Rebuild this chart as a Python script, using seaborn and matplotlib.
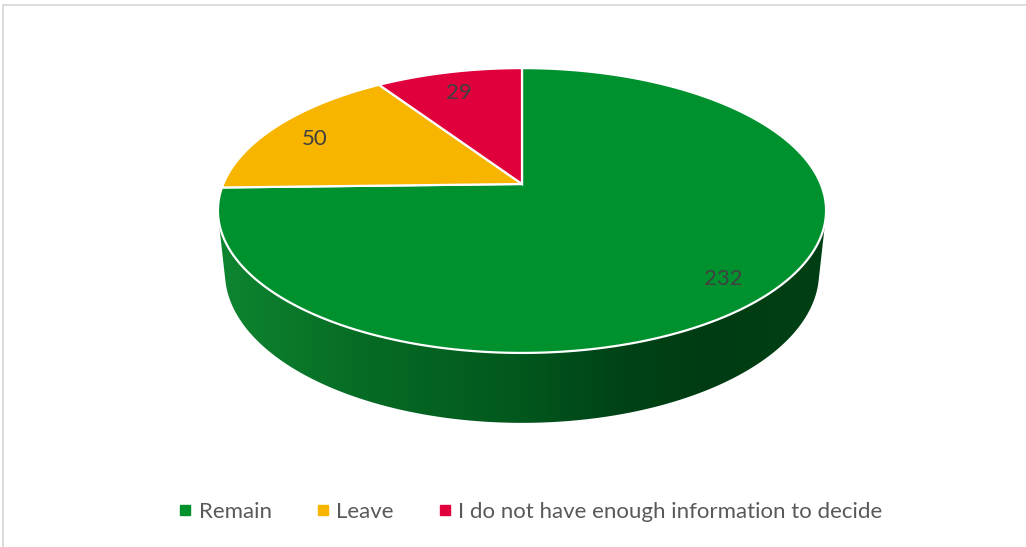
import numpy as np
import matplotlib
matplotlib.use("Agg")
import matplotlib.pyplot as plt
import seaborn as sns
from matplotlib.patches import Polygon
from matplotlib.lines import Line2D
from matplotlib.colors import LinearSegmentedColormap

# Survey answers
categories = ["Remain", "Leave", "I do not have enough information to decide"]
counts = [232, 50, 29]
slice_colors = ["#00912F", "#F7B500", "#E0003C"]

sns.set_theme(style="white")
plt.rcParams["font.family"] = ["Lato", "DejaVu Sans"]

W, H = 1026, 547
fig = plt.figure(figsize=(W / 100, H / 100), dpi=100)
ax = fig.add_axes([0, 0, 1, 1])
ax.axis("off")

# Perspective camera looking down at a flat disc of radius 1
F = 1425.0
DIST = 4.77
PHI = np.radians(27.4)
CX, CY = 522.0, 184.0
THICK = 0.235


def project(u, v, w=0.0):
    z = DIST + v * np.cos(PHI) - w * np.sin(PHI)
    return CX + F * u / z, CY - F * (v * np.sin(PHI) + w * np.cos(PHI)) / z


def convex_hull(points):
    pts = sorted(map(tuple, points))

    def cross(o, a, b):
        return (a[0] - o[0]) * (b[1] - o[1]) - (a[1] - o[1]) * (b[0] - o[0])

    lower, upper = [], []
    for p in pts:
        while len(lower) >= 2 and cross(lower[-2], lower[-1], p) <= 0:
            lower.pop()
        lower.append(p)
    for p in reversed(pts):
        while len(upper) >= 2 and cross(upper[-2], upper[-1], p) <= 0:
            upper.pop()
        upper.append(p)
    return np.array(lower[:-1] + upper[:-1])


# Side wall of the disc: hull of the top and bottom rims, shaded left to right
t = np.linspace(0, 2 * np.pi, 1441)
tx, ty = project(np.cos(t), np.sin(t), 0.0)
bx, by = project(np.cos(t), np.sin(t), -THICK)
hull = convex_hull(np.column_stack([np.r_[tx, bx], np.r_[ty, by]]))
x0, x1 = hull[:, 0].min(), hull[:, 0].max()
y0, y1 = hull[:, 1].min(), hull[:, 1].max()

side_cmap = LinearSegmentedColormap.from_list(
    "side",
    [(0.00, "#0E8530"), (0.25, "#066A24"), (0.50, "#02571D"),
     (0.65, "#004417"), (0.80, "#003C13"), (1.00, "#004015")],
)
grad = np.linspace(0, 1, 600)[None, :]
im = ax.imshow(grad, cmap=side_cmap, extent=(x0, x1, y1, y0),
               aspect="auto", zorder=1, interpolation="bilinear")
clip = Polygon(hull, closed=True, facecolor="none", edgecolor="none")
ax.add_patch(clip)
im.set_clip_path(clip)

# Top face wedges, clockwise from twelve o'clock
total = float(sum(counts))
vx, vy = project(0.0, 0.0, 0.0)
start = np.pi / 2
for value, color in zip(counts, slice_colors):
    sweep = 2 * np.pi * value / total
    arc = np.linspace(start, start - sweep, 400)
    ax_, ay_ = project(np.cos(arc), np.sin(arc), 0.0)
    poly = np.column_stack([np.r_[vx, ax_], np.r_[vy, ay_]])
    ax.add_patch(Polygon(poly, closed=True, facecolor=color,
                         edgecolor="white", linewidth=1.6, zorder=2,
                         joinstyle="miter"))
    mid = start - sweep / 2
    lx, ly = project(0.84 * np.cos(mid), 0.84 * np.sin(mid), 0.0)
    ax.text(lx, ly + 5, f"{value}", ha="center", va="center",
            fontsize=16, color="#404040", zorder=3)
    start -= sweep

ax.set_xlim(0, W)
ax.set_ylim(H, 0)

# Legend along the bottom
handles = [Line2D([], [], marker="s", linestyle="", color=c, markersize=6.5)
           for c in slice_colors]
ax.legend(handles, categories, loc="center", ncol=3, frameon=False,
          bbox_to_anchor=(531 / W, 1 - 512 / H), bbox_transform=fig.transFigure,
          fontsize=16, handlelength=0.5, handletextpad=0.35,
          columnspacing=2.05, labelcolor="#595959")

# Chart-area frame
frame = "#D9D9D9"
fig.add_artist(Line2D([3 / W, 1], [1 - 5 / H, 1 - 5 / H], transform=fig.transFigure,
                      color=frame, linewidth=1.3))
fig.add_artist(Line2D([3 / W, 3 / W], [0, 1 - 5 / H], transform=fig.transFigure,
                      color=frame, linewidth=1.3))

fig.savefig("out.png", dpi=100, facecolor="white")
